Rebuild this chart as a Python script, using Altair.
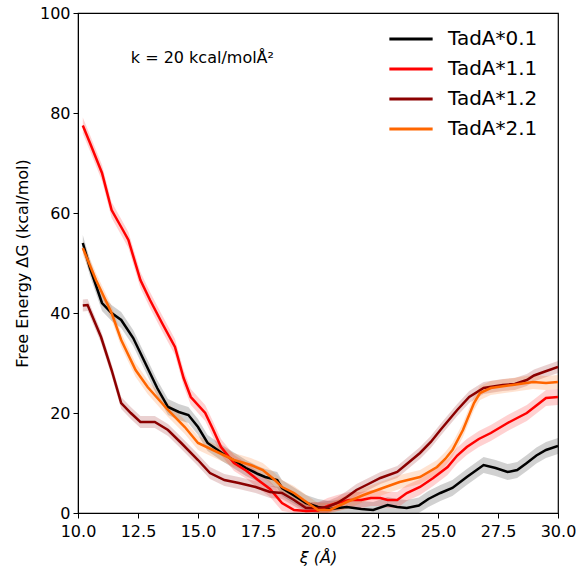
import altair as alt
import pandas as pd

series_names = ["TadA*0.1", "TadA*1.1", "TadA*1.2", "TadA*2.1"]
series_colors = ["#000000", "#ff0000", "#8b0000", "#ff6600"]

x_01 = [10.2, 10.5, 11.0, 11.4, 11.8, 12.3, 12.8, 13.3, 13.75, 14.2, 14.6, 15.0, 15.4, 16.0, 16.5,
        17.0, 17.5, 17.8, 18.3, 18.5, 19.0, 19.5, 20.0, 20.5, 21.2, 21.8, 22.3, 22.9, 23.3, 23.7,
        24.2, 24.6, 25.1, 25.6, 26.2, 26.9, 27.4, 27.9, 28.3, 28.7, 29.1, 29.5, 30.0]
y_01 = [54, 49, 42, 40, 38.6, 35, 30, 25, 21.2, 20.2, 19.6, 17.2, 14, 12, 10.5,
        9, 7.8, 7.2, 6.6, 5, 3.5, 2, 1.2, 0.8, 1.2, 0.8, 0.6, 1.6, 1.2, 1,
        1.5, 2.8, 4, 5, 7.2, 9.6, 9, 8.2, 8.6, 10, 11.5, 12.6, 13.4]

x_11 = [10.2, 10.5, 11.0, 11.4, 11.8, 12.1, 12.6, 13.0, 13.5, 14.04, 14.4, 14.7, 15.3, 15.6, 15.96,
        16.5, 17.0, 17.5, 18.0, 18.5, 19.0, 19.5, 20.0, 20.4, 20.8, 21.3, 21.8, 22.2, 22.6, 22.9,
        23.3, 23.7, 24.25, 24.8, 25.4, 25.8, 26.2, 26.7, 27.2, 27.9, 28.3, 28.7, 29.1, 29.5, 30.0]
y_11 = [77.5, 74, 68, 60.6, 57.2, 54.6, 46.6, 42.6, 38, 33.2, 27, 23.2, 20, 17, 13.2,
        10, 8.5, 6.6, 4.8, 2, 0.6, 0.4, 0.5, 1.4, 2, 2.6, 2.6, 3, 3, 2.6,
        2.6, 4, 5.2, 7, 9.2, 11.5, 13.2, 14.8, 16, 18, 19, 20, 21.5, 23, 23.2]

x_12 = [10.2, 10.4, 10.96, 11.4, 11.8, 12.2, 12.6, 13.2, 13.75, 14.3, 15.0, 15.5, 16.1, 16.7, 17.4,
        18.0, 18.5, 19.0, 19.5, 20.0, 20.4, 20.8, 21.2, 21.6, 22.1, 22.6, 23.3, 23.8, 24.25, 24.7,
        25.1, 25.8, 26.3, 26.9, 27.7, 28.2, 28.7, 29.0, 29.4, 30.0]
y_12 = [41.5, 41.6, 35.2, 28.6, 22, 20, 18.2, 18.2, 16.6, 14, 10.6, 8, 6.6, 6, 5.2,
        4.2, 4, 2.6, 1, 1, 1.2, 2, 3.2, 4.6, 5.8, 7, 8.2, 10.2, 12, 14.2,
        16.6, 20.6, 23.2, 25, 25.6, 25.8, 26.6, 27.5, 28.2, 29.2]

x_21 = [10.2, 10.75, 11.4, 11.8, 12.4, 12.9, 13.75, 14.45, 15.0, 15.8, 16.5, 17.2, 17.7, 18.2, 18.5,
        19.0, 19.4, 20.0, 20.5, 21.2, 21.9, 22.7, 23.4, 24.25, 24.96, 25.3, 25.6, 26.04, 26.5, 26.75,
        27.2, 28.1, 28.96, 29.5, 30.0]
y_21 = [53, 46.6, 40, 34.6, 28.6, 25.2, 20.6, 17.2, 14, 12.2, 10.6, 9.6, 8.6, 6.6, 5.2,
        4, 2.6, 0.6, 0.6, 2.2, 3.6, 5, 6.2, 7.2, 9.2, 10.8, 12.6, 16.6, 22, 24,
        25, 25.6, 26.2, 26, 26.2]

band_halfwidth = [1.6, 1.6, 1.2, 1.4]

x_ticks = [10.0, 12.5, 15.0, 17.5, 20.0, 22.5, 25.0, 27.5, 30.0]
y_ticks = [0, 20, 40, 60, 80, 100]

note_text = ["k = 20 kcal/molÅ²"]
note_x = [12.2]
note_y = [91]

rows = []
for name, xs, ys, hw in zip(series_names, [x_01, x_11, x_12, x_21], [y_01, y_11, y_12, y_21], band_halfwidth):
    for i, (xv, yv) in enumerate(zip(xs, ys)):
        rows.append({"series": name, "xi": xv, "G": yv, "lo": max(yv - hw, 0), "hi": yv + hw, "order": i})
df = pd.DataFrame(rows)

color_scale = alt.Scale(domain=series_names, range=series_colors)
xscale = alt.Scale(domain=[10, 30], nice=False, zero=False)
yscale = alt.Scale(domain=[0, 100], nice=False)

legend = alt.Legend(title=None, orient="none", legendX=313, legendY=6,
                    symbolType="M-1.2,0H1.2", symbolStrokeWidth=3, symbolOpacity=1,
                    symbolFillColor="transparent",
                    symbolSize=1300, labelFontSize=20, rowPadding=-9,
                    labelOffset=17)

x_axis = alt.Axis(title="ξ (Å)", values=x_ticks, format=".1f", titleFontStyle="italic",
                  labelFlush=False)
y_axis = alt.Axis(title="Free Energy ΔG (kcal/mol)", values=y_ticks, labelFlush=False)

base = alt.Chart(df)

bands = base.mark_area(opacity=0.18, clip=True).encode(
    x=alt.X("xi:Q", scale=xscale, axis=x_axis),
    y=alt.Y("lo:Q", scale=yscale, axis=y_axis),
    y2="hi:Q",
    color=alt.Color("series:N", scale=color_scale, sort=series_names, legend=legend),
)

lines = base.mark_line(strokeWidth=2.5, clip=True).encode(
    x=alt.X("xi:Q", scale=xscale, axis=x_axis),
    y=alt.Y("G:Q", scale=yscale, axis=y_axis),
    color=alt.Color("series:N", scale=color_scale, sort=series_names, legend=legend),
    order="order:Q",
)

note_df = pd.DataFrame({"text": note_text, "x": note_x, "y": note_y})
note = alt.Chart(note_df).mark_text(align="left", baseline="middle", fontSize=16,
                                    font="DejaVu Sans", color="black").encode(
    x=alt.X("x:Q", scale=xscale), y=alt.Y("y:Q", scale=yscale), text="text:N")

chart = alt.layer(bands, lines, note).properties(
    width=480, height=500,
    autosize=alt.AutoSizeParams(type="none"),
    padding={"left": 78, "top": 13, "right": 22, "bottom": 58},
).configure(font="DejaVu Sans").configure_view(
    stroke="black", strokeWidth=1.2
).configure_axis(
    grid=False, domainColor="black", tickColor="black", labelColor="black", titleColor="black",
    labelFontSize=16, titleFontSize=16, titleFontWeight="normal", tickSize=5,
    labelFont="DejaVu Sans", titleFont="DejaVu Sans"
).configure_axisX(titlePadding=10, labelPadding=5).configure_axisY(
    titlePadding=9, labelPadding=3
).configure_legend(
    labelFont="DejaVu Sans", labelColor="black"
)

chart.save("out.html", embed_options={"renderer": "svg", "actions": False})
